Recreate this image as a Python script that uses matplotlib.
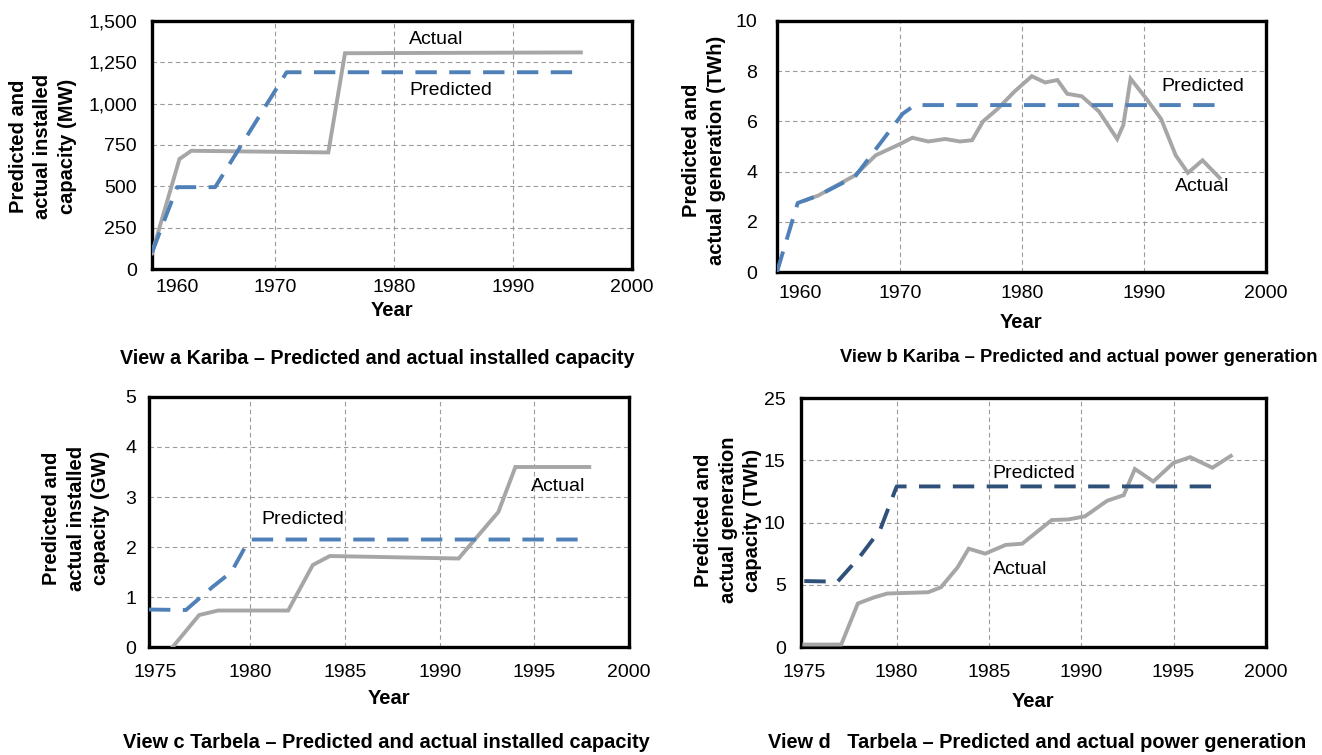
import numpy as np
import matplotlib
matplotlib.use('Agg')
import matplotlib.pyplot as plt

plt.rcParams['font.family'] = ['Liberation Sans', 'DejaVu Sans']

# Kariba - installed capacity (MW)
kariba_cap_pred_year = [1959.7, 1961.8, 1965.0, 1971.0, 1995.7]
kariba_cap_pred = [100, 495, 495, 1190, 1190]
kariba_cap_act_year = [1959.7, 1962.0, 1963.0, 1974.5, 1975.9, 1995.7]
kariba_cap_act = [95, 665, 715, 705, 1305, 1310]

# Kariba - power generation (TWh)
kariba_gen_pred_year = [1959.9, 1961.6, 1963.3, 1966.3, 1970.2, 1971.2, 1995.8]
kariba_gen_pred = [0, 2.75, 3.05, 3.8, 6.3, 6.65, 6.65]
kariba_gen_act_year = [1962.2, 1963.3, 1966.3, 1968.0, 1970.0, 1971.0, 1972.3, 1973.7,
                       1974.9, 1975.9, 1976.8, 1978.0, 1979.4, 1980.8, 1981.9, 1982.9,
                       1983.7, 1984.9, 1986.3, 1987.8, 1988.3, 1988.9, 1990.2, 1991.4,
                       1992.6, 1993.6, 1994.8, 1996.2]
kariba_gen_act = [2.85, 3.05, 3.85, 4.65, 5.1, 5.35, 5.2, 5.3,
                  5.2, 5.25, 6.0, 6.5, 7.2, 7.8, 7.55, 7.65,
                  7.1, 7.0, 6.4, 5.3, 5.85, 7.7, 6.9, 6.1,
                  4.65, 3.95, 4.45, 3.75]

# Tarbela - installed capacity (GW)
tarbela_cap_pred_year = [1974.65, 1976.6, 1978.0, 1979.0, 1979.8, 1980.0, 1997.8]
tarbela_cap_pred = [0.75, 0.74, 1.2, 1.5, 2.05, 2.15, 2.15]
tarbela_cap_act_year = [1975.9, 1977.3, 1978.3, 1982.0, 1983.3, 1984.2, 1991.0, 1993.1, 1994.0, 1997.9]
tarbela_cap_act = [0.0, 0.64, 0.73, 0.73, 1.64, 1.82, 1.77, 2.7, 3.6, 3.6]

# Tarbela - power generation (TWh)
tarbela_gen_pred_year = [1975.0, 1976.8, 1978.0, 1979.1, 1980.0, 1997.25]
tarbela_gen_pred = [5.3, 5.25, 7.25, 9.4, 12.9, 12.9]
tarbela_gen_act_year = [1975.0, 1977.0, 1977.9, 1978.8, 1979.5, 1981.7, 1982.4, 1983.3,
                        1983.9, 1984.8, 1985.9, 1986.8, 1988.4, 1989.3, 1990.2, 1991.4,
                        1992.3, 1992.9, 1993.9, 1995.0, 1995.9, 1997.1, 1998.1]
tarbela_gen_act = [0.2, 0.2, 3.5, 4.0, 4.3, 4.4, 4.8, 6.4,
                   7.9, 7.5, 8.2, 8.3, 10.2, 10.25, 10.5, 11.75,
                   12.2, 14.3, 13.3, 14.8, 15.25, 14.4, 15.35]

# axis ticks and labels
kariba_years = [1960, 1970, 1980, 1990, 2000]
tarbela_years = [1975, 1980, 1985, 1990, 1995, 2000]
cap_mw_ticks = [0, 250, 500, 750, 1000, 1250, 1500]
cap_mw_labels = ['0', '250', '500', '750', '1,000', '1,250', '1,500']
gen_kariba_ticks = [0, 2, 4, 6, 8, 10]
cap_gw_ticks = [0, 1, 2, 3, 4, 5]
gen_tarbela_ticks = [0, 5, 10, 15, 20]
gen_tarbela_labels = ['0', '5', '10', '15', '25']

GRAY = '#a6a6a6'
BLUE = '#5080b8'
DARK_BLUE = '#2f5079'


def draw_panel(ax, xlim, xticks, ylim, yticks, ylabels,
               act_x, act_y, pred_x, pred_y, pred_color,
               act_txt, pred_txt, first_left=False, ypad=10, xpad=10, xlabpad=5):
    ax.plot(act_x, act_y, color=GRAY, lw=2.8, solid_joinstyle='miter', zorder=3)
    ax.plot(pred_x, pred_y, color=pred_color, lw=2.8, dashes=(5.5, 3.2), zorder=4)

    ax.set_xlim(*xlim)
    ax.set_ylim(*ylim)
    ax.set_xticks(xticks)
    ax.set_xticklabels([str(v) for v in xticks])
    ax.set_yticks(yticks)
    ax.set_yticklabels(ylabels if ylabels else [str(v) for v in yticks])
    ax.tick_params(axis='both', length=0, labelsize=14)
    ax.tick_params(axis='x', pad=xpad)
    ax.tick_params(axis='y', pad=ypad)

    ax.grid(True, color='#9a9a9a', lw=0.8, ls=(0, (4, 3)))
    # no grid lines sitting on the frame
    for t, v in zip(ax.xaxis.get_major_ticks(), xticks):
        if v <= xlim[0] + 0.5 or v >= xlim[1] - 0.5:
            t.gridline.set_visible(False)
    for t, v in zip(ax.yaxis.get_major_ticks(), yticks):
        if v <= ylim[0] or v >= ylim[1]:
            t.gridline.set_visible(False)
    if first_left:
        ax.xaxis.get_major_ticks()[0].label1.set_horizontalalignment('left')

    for s in ax.spines.values():
        s.set_linewidth(2.4)
        s.set_color('black')

    ax.set_xlabel('Year', fontsize=14.5, fontweight='bold', labelpad=xlabpad)
    ax.text(act_txt[0], act_txt[1], 'Actual', fontsize=14, va='center')
    ax.text(pred_txt[0], pred_txt[1], 'Predicted', fontsize=14, va='center')


fig = plt.figure(figsize=(13.22, 7.55), dpi=100)

ax_a = fig.add_axes([0.1150, 0.6437, 0.3631, 0.3285])
ax_b = fig.add_axes([0.5877, 0.6397, 0.3699, 0.3325])
ax_c = fig.add_axes([0.1127, 0.1430, 0.3631, 0.3312])
ax_d = fig.add_axes([0.6059, 0.1430, 0.3517, 0.3298])

draw_panel(ax_a, (1959.7, 2000), kariba_years, (0, 1500), cap_mw_ticks, cap_mw_labels,
           kariba_cap_act_year, kariba_cap_act, kariba_cap_pred_year, kariba_cap_pred, BLUE,
           (1981.3, 1390), (1981.3, 1080), first_left=True, ypad=11, xpad=7, xlabpad=4)
draw_panel(ax_b, (1959.9, 2000), kariba_years, (0, 10), gen_kariba_ticks, None,
           kariba_gen_act_year, kariba_gen_act, kariba_gen_pred_year, kariba_gen_pred, BLUE,
           (1992.5, 3.4), (1991.4, 7.4), first_left=True, ypad=14, xpad=9, xlabpad=8)
draw_panel(ax_c, (1974.65, 2000), tarbela_years, (0, 5), cap_gw_ticks, None,
           tarbela_cap_act_year, tarbela_cap_act, tarbela_cap_pred_year, tarbela_cap_pred, BLUE,
           (1994.8, 3.2), (1980.6, 2.55), ypad=9, xpad=12, xlabpad=6)
draw_panel(ax_d, (1974.82, 2000), tarbela_years, (0, 20), gen_tarbela_ticks, gen_tarbela_labels,
           tarbela_gen_act_year, tarbela_gen_act, tarbela_gen_pred_year, tarbela_gen_pred, DARK_BLUE,
           (1985.2, 6.2), (1985.2, 13.9), ypad=11, xpad=12, xlabpad=8)

# rotated axis titles
ylab_kw = dict(rotation=90, ha='center', va='center', fontsize=14.5,
               fontweight='bold', multialignment='center', linespacing=1.35)
fig.text(43 / 1322, 1 - 146 / 755, 'Predicted and\nactual installed\ncapacity (MW)', **ylab_kw)
fig.text(704 / 1322, 1 - 150 / 755, 'Predicted and\nactual generation (TWh)', **ylab_kw)
fig.text(76 / 1322, 1 - 518 / 755, 'Predicted and\nactual installed\ncapacity (GW)', **ylab_kw)
fig.text(728 / 1322, 1 - 520 / 755, 'Predicted and\nactual generation\ncapacity (TWh)', **ylab_kw)

# view captions
cap_kw = dict(ha='center', va='center', fontweight='bold')
fig.text(377 / 1322, 1 - 358 / 755, 'View a Kariba \u2013 Predicted and actual installed capacity',
         fontsize=14.2, **cap_kw)
fig.text(1079 / 1322, 1 - 358 / 755, 'View b Kariba \u2013 Predicted and actual power generation',
         fontsize=13.2, **cap_kw)
fig.text(386 / 1322, 1 - 742 / 755, 'View c Tarbela \u2013 Predicted and actual installed capacity',
         fontsize=14.4, **cap_kw)
fig.text(1037 / 1322, 1 - 742 / 755, 'View d   Tarbela \u2013 Predicted and actual power generation',
         fontsize=14.4, **cap_kw)

fig.savefig('out.png', dpi=100)
